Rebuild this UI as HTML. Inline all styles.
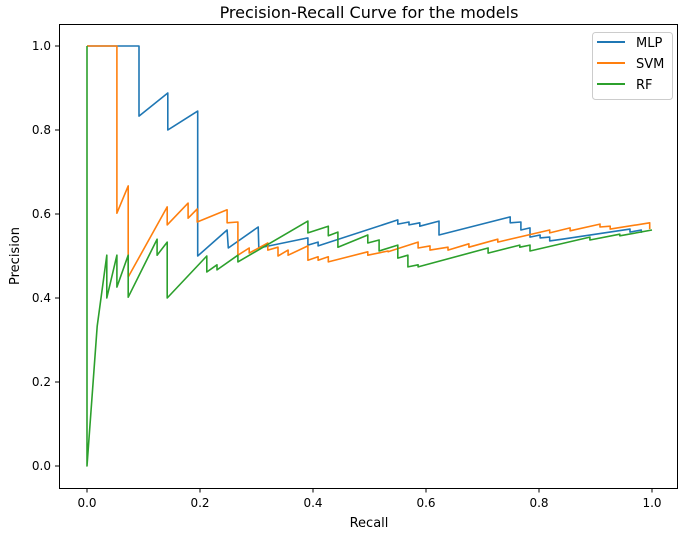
<!DOCTYPE html>
<html><head><meta charset="utf-8"><style>
body{margin:0;background:#fff}
svg text{font-family:"DejaVu Sans","Liberation Sans",sans-serif;fill:#000}
</style></head><body>
<svg id="chart" width="682" height="532" xmlns="http://www.w3.org/2000/svg">
<rect width="682" height="532" fill="#fff"/>
<text x="369" y="18" font-size="16" text-anchor="middle">Precision-Recall Curve for the models</text>
<g id="grid"></g>
<g id="series"></g>
<rect x="59.5" y="24.5" width="618" height="464" fill="none" stroke="#000" stroke-width="1"/>
<text x="369" y="527" font-size="13" text-anchor="middle">Recall</text>
<text transform="translate(19,256) rotate(-90)" font-size="13" text-anchor="middle">Precision</text>
<g>
<rect x="592.5" y="32.5" width="80" height="67" rx="3" fill="#fff" fill-opacity="0.8" stroke="#ccc"/>
<line x1="597" y1="42" x2="625" y2="42" stroke="#1f77b4" stroke-width="2"/>
<text x="636" y="47" font-size="13">MLP</text>
<line x1="597" y1="63" x2="625" y2="63" stroke="#ff7f0e" stroke-width="2"/>
<text x="636" y="68" font-size="13">SVM</text>
<line x1="597" y1="84" x2="625" y2="84" stroke="#2ca02c" stroke-width="2"/>
<text x="636" y="89" font-size="13">RF</text>
</g>
</svg>
<script>
const xTicks=[0,0.2,0.4,0.6,0.8,1.0];
const yTicks=[0,0.2,0.4,0.6,0.8,1.0];
const mlpR=[0,.092,.092,.143,.143,.196,.196,.248,.250,.303,.304,.391,.391,.409,.409,.550,.550,.570,.570,.589,.589,.623,.623,.749,.749,.768,.768,.784,.784,.802,.802,.819,.819,.841,.961,.961,.981,.981];
const mlpP=[1,1,.833,.888,.8,.845,.5,.562,.519,.569,.519,.543,.526,.533,.524,.586,.576,.581,.574,.579,.571,.583,.550,.593,.579,.581,.562,.567,.545,.550,.543,.545,.536,.540,.564,.557,.562,.555];
const svmR=[0,.053,.053,.073,.073,.142,.142,.179,.179,.195,.195,.248,.248,.267,.267,.287,.287,.320,.320,.338,.338,.356,.356,.391,.391,.409,.409,.427,.427,.497,.497,.533,.533,.586,.586,.607,.607,.639,.639,.676,.676,.727,.727,.819,.819,.855,.855,.908,.908,.926,.926,.996,.996];
const svmP=[1,1,.602,.667,.45,.617,.574,.626,.590,.612,.581,.610,.579,.581,.502,.519,.507,.531,.514,.521,.5,.514,.502,.524,.490,.498,.490,.498,.486,.510,.502,.512,.510,.533,.519,.524,.514,.521,.514,.529,.521,.540,.533,.562,.555,.567,.560,.576,.569,.571,.564,.579,.564];
const rfR=[0,0,.018,.035,.035,.053,.053,.073,.073,.124,.124,.142,.142,.212,.212,.230,.230,.267,.267,.391,.391,.427,.427,.444,.444,.497,.497,.517,.517,.550,.550,.568,.568,.586,.586,.710,.710,.766,.766,.784,.784,.890,.890,.943,.943,1];
const rfP=[1,0,.333,.502,.4,.502,.426,.502,.402,.540,.502,.533,.4,.5,.462,.479,.467,.502,.486,.583,.555,.571,.548,.557,.521,.550,.531,.538,.512,.526,.495,.502,.474,.479,.474,.519,.507,.526,.521,.526,.512,.545,.538,.552,.548,.562];
const NS='http://www.w3.org/2000/svg';
function sx(v){return 87+v*565;}
function sy(v){return 466-v*420;}
const grid=document.getElementById('grid');
xTicks.forEach(t=>{
  const l=document.createElementNS(NS,'line');
  
  
  l.setAttribute('x1',sx(t));l.setAttribute('x2',sx(t));l.setAttribute('y1',488.5);l.setAttribute('y2',492.5);l.setAttribute('stroke','#000');
  grid.appendChild(l);
  const tx=document.createElementNS(NS,'text');
  
  
  tx.setAttribute('x',sx(t));tx.setAttribute('y',507);tx.setAttribute('font-size','12');tx.setAttribute('text-anchor','middle');
  tx.textContent=t.toFixed(1);grid.appendChild(tx);
});
yTicks.forEach(t=>{
  const l=document.createElementNS(NS,'line');
  
  
  l.setAttribute('x1',55);l.setAttribute('x2',59.5);l.setAttribute('y1',sy(t));l.setAttribute('y2',sy(t));l.setAttribute('stroke','#000');
  grid.appendChild(l);
  const tx=document.createElementNS(NS,'text');
  
  
  tx.setAttribute('x',51);tx.setAttribute('y',sy(t)+4);tx.setAttribute('font-size','12');tx.setAttribute('text-anchor','end');
  tx.textContent=t.toFixed(1);grid.appendChild(tx);
});
const ser=document.getElementById('series');
function draw(R,P,color,name){
  const p=document.createElementNS(NS,'polyline');
  
  
  p.setAttribute('points',R.map((r,i)=>sx(r).toFixed(1)+','+sy(P[i]).toFixed(1)).join(' '));
  p.setAttribute('fill','none');p.setAttribute('stroke',color);p.setAttribute('stroke-width','1.6');p.setAttribute('stroke-linejoin','round');
  ser.appendChild(p);
}
draw(mlpR,mlpP,'#1f77b4','mlp-curve');
draw(svmR,svmP,'#ff7f0e','svm-curve');
draw(rfR,rfP,'#2ca02c','rf-curve');
</script>
</body></html>
